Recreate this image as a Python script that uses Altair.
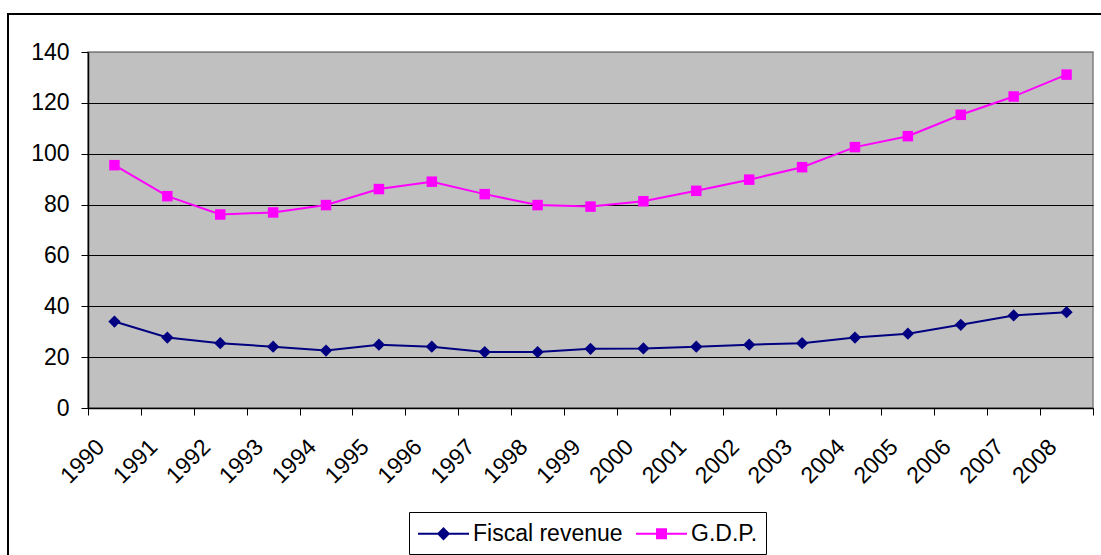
import altair as alt
import pandas as pd

years = ["1990", "1991", "1992", "1993", "1994", "1995", "1996", "1997", "1998", "1999",
         "2000", "2001", "2002", "2003", "2004", "2005", "2006", "2007", "2008"]
fiscal = [34.0, 27.7, 25.5, 24.1, 22.6, 24.9, 24.1, 22.0, 22.0, 23.3,
          23.4, 24.1, 24.9, 25.5, 27.7, 29.2, 32.7, 36.4, 37.7]
gdp = [95.5, 83.3, 76.1, 76.9, 79.8, 86.1, 89.0, 84.1, 79.8, 79.2,
       81.3, 85.4, 89.8, 94.7, 102.6, 106.9, 115.3, 122.5, 131.1]
series_names = ["Fiscal revenue", "G.D.P."]
y_ticks = [0, 20, 40, 60, 80, 100, 120, 140]

df = pd.DataFrame(
    {"year": years * 2,
     "series": [series_names[0]] * len(years) + [series_names[1]] * len(years),
     "value": fiscal + gdp}
)

NAVY = "#000080"
MAGENTA = "#FF00FF"
FONT = "Liberation Sans"
FS = 23

x_enc = alt.X("year:N", sort=years,
              scale=alt.Scale(paddingInner=0, paddingOuter=0),
              axis=alt.Axis(title=None, tickBand="extent", tickSize=7, tickColor="black",
                            domainColor="black", domainWidth=1.5,
                            labelAngle=315, labelAlign="right", labelBaseline="middle",
                            labelPadding=28, labelOffset=-14, labelFontSize=FS,
                            labelFont=FONT, labelColor="black", grid=False))
y_enc = alt.Y("value:Q",
              scale=alt.Scale(domain=[0, 140], nice=False, zero=True),
              axis=alt.Axis(title=None, values=y_ticks, tickSize=7, tickColor="black",
                            domainColor="black", domainWidth=1.5,
                            labelPadding=12, labelFontSize=FS, labelFont=FONT,
                            labelColor="black", grid=True,
                            gridColor={"condition": {"test": "datum.value >= 140", "value": "#808080"},
                                       "value": "black"},
                            gridWidth=1))

base = alt.Chart(df)

frame = alt.Chart(alt.Data(values=[{"a": 1}])).mark_rect(
    fill="transparent", stroke="black", strokeWidth=2
).encode(x=alt.value(-80), x2=alt.value(1200), y=alt.value(-38), y2=alt.value(700))

line_f = base.transform_filter(alt.datum.series == series_names[0]).mark_line(
    color=NAVY, strokeWidth=2).encode(x=x_enc, y=y_enc)
pts_f = base.transform_filter(alt.datum.series == series_names[0]).mark_point(
    shape="diamond", filled=True, color=NAVY, size=150, opacity=1).encode(x=x_enc, y=y_enc)
line_g = base.transform_filter(alt.datum.series == series_names[1]).mark_line(
    color=MAGENTA, strokeWidth=2).encode(x=x_enc, y=y_enc)
pts_g = base.transform_filter(alt.datum.series == series_names[1]).mark_point(
    shape="square", filled=True, color=MAGENTA, size=110, opacity=1).encode(x=x_enc, y=y_enc)

legend_paths = ["M-2.04,0H2.04M0,-0.42L0.42,0L0,0.42L-0.42,0Z",
                "M-2.04,0H2.04M-0.36,-0.36H0.36V0.36H-0.36Z"]
legend = alt.Legend(title=None, orient="none", legendX=321, legendY=460,
                    direction="horizontal", symbolSize=625, symbolStrokeWidth=2,
                    symbolOffset=13, symbolOpacity=1, labelFontSize=FS, labelFont=FONT,
                    labelColor="black", labelOffset=16, columnPadding=9, padding=8,
                    strokeColor="black", fillColor="white")
leg = base.transform_filter("false").mark_point(filled=True, opacity=1).encode(
    fill=alt.Fill("series:N", scale=alt.Scale(domain=series_names, range=[NAVY, MAGENTA]), legend=legend),
    stroke=alt.Stroke("series:N", scale=alt.Scale(domain=series_names, range=[NAVY, MAGENTA]), legend=legend),
    shape=alt.Shape("series:N", scale=alt.Scale(domain=series_names, range=legend_paths), legend=legend),
)

chart = alt.layer(frame, line_f, line_g, pts_f, pts_g, leg).properties(
    width=1005, height=356,
    autosize=alt.AutoSizeParams(type="none"),
    padding={"left": 88, "top": 52, "right": 8, "bottom": 147},
    background="white",
    view=alt.ViewBackground(fill="#C0C0C0", stroke="#808080", strokeWidth=1.5),
)

chart.save("out.html", embed_options={"renderer": "svg", "actions": False})
